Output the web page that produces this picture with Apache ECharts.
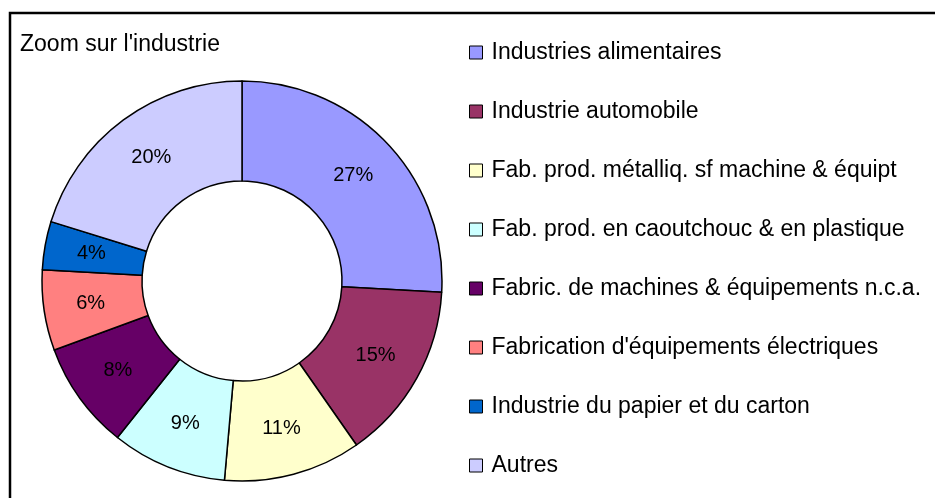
<!DOCTYPE html>
<html>
<head>
	<meta charset="utf-8">
	<title>Zoom sur l'industrie</title>
	<style>html, body { margin: 0; padding: 0; background: #fff; }</style>
</head>
<body>

<div id="graph" style="width: 935px; height: 498px;"></div>
<script type="text/javascript" src="https://cdn.jsdelivr.net/npm/echarts@6/dist/echarts.min.js"></script>
<script type="text/javascript">
	// secteurs de l'industrie
	const categories = [
		'Industries alimentaires',
		'Industrie automobile',
		'Fab. prod. métalliq. sf machine & équipt',
		'Fab. prod. en caoutchouc & en plastique',
		'Fabric. de machines & équipements n.c.a.',
		"Fabrication d'équipements électriques",
		'Industrie du papier et du carton',
		'Autres'
	];
	const shares = [25.9, 14.4, 11.1, 9.3, 8.7, 6.5, 3.9, 20.2];
	// étiquettes imprimées sur le graphique
	const printedPct = ['27%', '15%', '11%', '9%', '8%', '6%', '4%', '20%'];

	const colors = ['#9999FF', '#993366', '#FFFFCC', '#CCFFFF', '#660066', '#FF8080', '#0066CC', '#CCCCFF'];
	const font = 'Liberation Sans, Arial, sans-serif';

	let chart = echarts.init(document.getElementById('graph'));

	chart.setOption({
		animation: false,
		color: colors,
		title: {
			text: "Zoom sur l'industrie",
			left: 15,
			top: 28,
			textStyle: { fontFamily: font, fontSize: 23, fontWeight: 'normal', color: '#000' }
		},
		legend: {
			orient: 'vertical',
			left: 469,
			top: 41,
			padding: 0,
			itemWidth: 13,
			itemHeight: 13,
			itemGap: 36,
			icon: 'rect',
			selectedMode: false,
			itemStyle: { borderColor: '#000', borderWidth: 1 },
			textStyle: { fontFamily: font, fontSize: 23, color: '#000', padding: [0, 0, 0, 4] },
			data: categories
		},
		graphic: [{
			type: 'rect',
			shape: { x: 10, y: 13, width: 1000, height: 1000 },
			style: { fill: 'none', stroke: '#000', lineWidth: 2.5 },
			silent: true
		}],
		series: [{
			type: 'pie',
			center: [242, 281],
			radius: [100, 200],
			startAngle: 90,
			clockwise: true,
			avoidLabelOverlap: false,
			itemStyle: { borderColor: '#000', borderWidth: 1.5 },
			label: {
				show: true,
				position: 'inside',
				fontFamily: font,
				fontSize: 20,
				color: '#000',
				formatter: p => printedPct[p.dataIndex]
			},
			labelLine: { show: false },
			emphasis: { disabled: true },
			data: categories.map((name, i) => ({ name: name, value: shares[i] }))
		}]
	});
</script>
</body>
</html>
